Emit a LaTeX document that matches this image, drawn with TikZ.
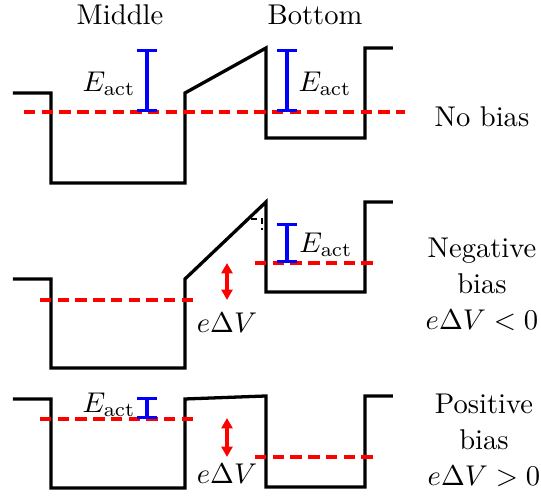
\documentclass[tikz,border=0pt]{standalone}
\usetikzlibrary{arrows.meta}
\definecolor{BandInk}{HTML}{000000}
\definecolor{LevelRed}{HTML}{FF0000}
\definecolor{GapBlue}{HTML}{0000FF}
\tikzset{
  band edge/.style={draw=BandInk, line width=1.15pt, line join=miter},
  fermi level/.style={draw=LevelRed, line width=1.15pt, dash pattern=on 4pt off 2.2pt},
  gap bar/.style={draw=GapBlue, line width=1.15pt, {Bar[width=7pt]}-{Bar[width=7pt]}},
  bias arrow/.style={draw=LevelRed, line width=1.15pt,
    {Triangle[length=3.6pt,width=3.8pt]}-{Triangle[length=3.6pt,width=3.8pt]}},
  lowered top/.style={draw=BandInk, line width=0.8pt, dash pattern=on 2pt off 1.5pt},
  column title/.style={font=\fontsize{10}{12}\selectfont, inner sep=0pt},
  panel label/.style={font=\fontsize{10}{12.6}\selectfont, align=center, inner sep=0pt},
  level label/.style={font=\fontsize{10}{12}\selectfont, inner sep=0pt},
}

\begin{document}
\begin{tikzpicture}[x=0.35pt, y=-0.35pt]
  \useasboundingbox (0,0) rectangle (541,496);

  % Well names over the columns.
  \node[column title] (middleTitle) at (120,15) {Middle};
  \node[column title] (bottomTitle) at (315,15) {Bottom};

  % No bias.
  \draw[band edge] (13,93) -- (51,93) -- (51,183) -- (185,183) -- (185,93)
    -- (266,48) -- (266,138) -- (365,138) -- (365,48) -- (393,48);
  \draw[fermi level] (24,112) -- (405,112);
  \coordinate (zeroMidLow) at (147,112);
  \coordinate (zeroMidHigh) at (147,49);
  \coordinate (zeroBotLow) at (287,112);
  \coordinate (zeroBotHigh) at (287,49);
  \draw[gap bar] (zeroMidLow) -- (zeroMidHigh);
  \draw[gap bar] (zeroBotLow) -- (zeroBotHigh);
  \node[level label] (zeroMidGap) at (109,84) {$E_\mathrm{act}$};
  \node[level label] (zeroBotGap) at (325,84) {$E_\mathrm{act}$};
  \node[panel label] (zeroBias) at (482,117) {No bias};

  % Negative bias.
  \draw[band edge] (13,279) -- (51,279) -- (51,368) -- (185,368) -- (185,279)
    -- (266,202) -- (266,292) -- (365,292) -- (365,202) -- (393,202);
  \draw[lowered top] (251,219) -- (262,219) -- (262,230);
  \draw[fermi level] (40,300) -- (197,300);
  \draw[fermi level] (255,263) -- (376,263);
  \coordinate (negBotLow) at (287,263);
  \coordinate (negBotHigh) at (287,223);
  \draw[gap bar] (negBotLow) -- (negBotHigh);
  \node[level label] (negBotGap) at (326,245) {$E_\mathrm{act}$};
  \coordinate (negShiftHigh) at (227,263);
  \coordinate (negShiftLow) at (227,300);
  \draw[bias arrow] (negShiftHigh) -- (negShiftLow);
  \node[level label] (negShift) at (227,323) {$e\Delta V$};
  \node[panel label] (negBias) at (482,284) {Negative\\bias\\$e\Delta V<0$};

  % Positive bias.
  \draw[band edge] (13,399) -- (51,399) -- (51,488) -- (185,488) -- (185,399)
    -- (266,396) -- (266,487) -- (365,487) -- (365,396) -- (393,396);
  \draw[fermi level] (40,419) -- (197,419);
  \draw[fermi level] (255,457) -- (376,457);
  \coordinate (posMidLow) at (147,419);
  \coordinate (posMidHigh) at (147,397);
  \draw[gap bar] (posMidLow) -- (posMidHigh);
  \node[level label] (posMidGap) at (109,405) {$E_\mathrm{act}$};
  \coordinate (posShiftHigh) at (227,418);
  \coordinate (posShiftLow) at (227,457);
  \draw[bias arrow] (posShiftHigh) -- (posShiftLow);
  \node[level label] (posShift) at (227,474) {$e\Delta V$};
  \node[panel label] (posBias) at (484,440) {Positive\\bias\\$e\Delta V>0$};
\end{tikzpicture}
\end{document}
